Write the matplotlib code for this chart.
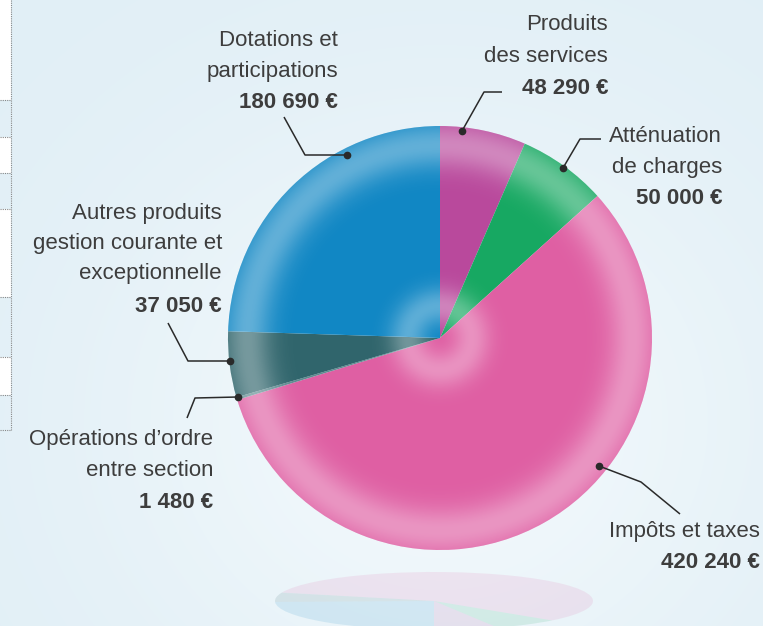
import numpy as np
import matplotlib.pyplot as plt
from matplotlib.patches import Circle, Rectangle

W, H = 763, 626

# data (clockwise from the top)
categories = ["Produits des services", "Atténuation de charges", "Impôts et taxes",
              "Opérations d'ordre entre section",
              "Autres produits gestion courante et exceptionnelle",
              "Dotations et participations"]
values = [48290, 50000, 420240, 1480, 37050, 180690]
value_labels = ["48 290 €", "50 000 €", "420 240 €", "1 480 €", "37 050 €", "180 690 €"]
colors = ["#b9499c", "#17a862", "#df5fa3", "#5f8a90", "#30656c", "#1187c4"]

plt.rcParams['font.family'] = ['Liberation Sans', 'DejaVu Sans']
text_color = "#3d3d3d"

fig = plt.figure(figsize=(W / 100, H / 100), dpi=100)
ax = fig.add_axes([0, 0, 1, 1])


def py(y):
    return H - y


# background
yy, xx = np.mgrid[0:H, 0:W]
d = np.hypot(xx - 440, (yy - 420) * 1.1) / 420
t = np.clip(np.exp(-d ** 2 * 1.6), 0, 1)[..., None]
edge = np.array([0.882, 0.937, 0.965])
light = np.array([0.95, 0.975, 0.988])
bg = edge * (1 - t) + light * t
ax.imshow(bg, extent=[0, W, 0, H], origin='upper', zorder=0)

# fragment of the neighbouring page on the left
for y0, y1 in [(0, 100), (137, 173), (209, 297), (357, 395)]:
    ax.add_patch(Rectangle((0, py(y1)), 11, y1 - y0, color="white", zorder=1, lw=0))
ax.plot([11, 11], [py(0), py(430)], color="#888888", lw=0.8, ls=(0, (1, 1)), zorder=2)
for y in [100, 137, 173, 209, 297, 357, 395, 430]:
    ax.plot([0, 11], [py(y), py(y)], color="#888888", lw=0.8, ls=(0, (1, 1)), zorder=2)

# pie
cx, cy, R = 440, py(338), 212
wedges, _ = ax.pie(values, colors=colors, startangle=90, counterclock=False,
                   center=(cx, cy), radius=R, wedgeprops=dict(linewidth=0),
                   frame=True)
for w in wedges:
    w.set_zorder(3)

# shading: soft glow around the centre and a broad light band near the rim
gy, gx = np.mgrid[-1:1:500j, -1:1:500j]
r = np.hypot(gx, gy)
alpha = (0.32 * np.exp(-((r - 0.15) / 0.09) ** 2)
         + 0.34 * np.exp(-((r - 0.91) / 0.11) ** 2))
shade = np.zeros((500, 500, 4))
shade[..., :3] = 1
shade[..., 3] = np.clip(alpha, 0, 1)
im = ax.imshow(shade, extent=[cx - R, cx + R, cy - R, cy + R], origin='upper', zorder=4)
clip = Circle((cx, cy), R, transform=ax.transData)
im.set_clip_path(clip)

# reflection under the pie
ax2 = fig.add_axes([275 / W, -4 / H, 318 / W, 58 / H])
ax2.pie(values, colors=colors, startangle=-90, counterclock=True,
        wedgeprops=dict(linewidth=0, alpha=0.12))
ax2.set_aspect('auto')
ax2.set_xlim(-1, 1)
ax2.set_ylim(-1, 1)
ax2.set_axis_off()

# labels
fs = 16
labels = [
    (["Dotations et", "participations"], value_labels[5], 338, [40, 71, 102]),
    (["Produits", "des services"], value_labels[0], 608, [25, 57, 88]),
    (["Atténuation", "de charges"], value_labels[1], 722, [137, 168, 199]),
    (["Autres produits", "gestion courante et", "exceptionnelle"], value_labels[4],
     222, [213, 243, 274, 306]),
    (["Opérations d’ordre", "entre section"], value_labels[3], 213, [440, 471, 503]),
    (["Impôts et taxes"], value_labels[2], 760, [531, 562]),
]
for lines, val, x, ys in labels:
    for line, y in zip(lines, ys):
        ax.text(x, py(y), line, ha='right', va='center', fontsize=fs, color=text_color, zorder=6)
    ax.text(x, py(ys[-1]), val, ha='right', va='center', fontsize=fs, fontweight='bold',
            color=text_color, zorder=6)

# leader lines
leaders = [
    [(284, 117), (305, 155), (347, 155)],
    [(502, 92), (484, 92), (462, 131)],
    [(601, 139), (580, 139), (563, 168)],
    [(168, 323), (188, 361), (230, 361)],
    [(187, 418), (195, 398), (238, 397)],
    [(680, 514), (641, 482), (599, 466)],
]
for pts in leaders:
    xs = [p[0] for p in pts]
    ys = [py(p[1]) for p in pts]
    ax.plot(xs, ys, color="#2a2a2a", lw=1.1, zorder=7, solid_capstyle='butt')
    ax.plot(xs[-1], ys[-1], 'o', color="#2a2a2a", ms=4.5, zorder=7)

ax.set_xlim(0, W)
ax.set_ylim(0, H)
ax.set_aspect('auto')
ax.set_axis_off()

fig.savefig("out.png", dpi=100)
